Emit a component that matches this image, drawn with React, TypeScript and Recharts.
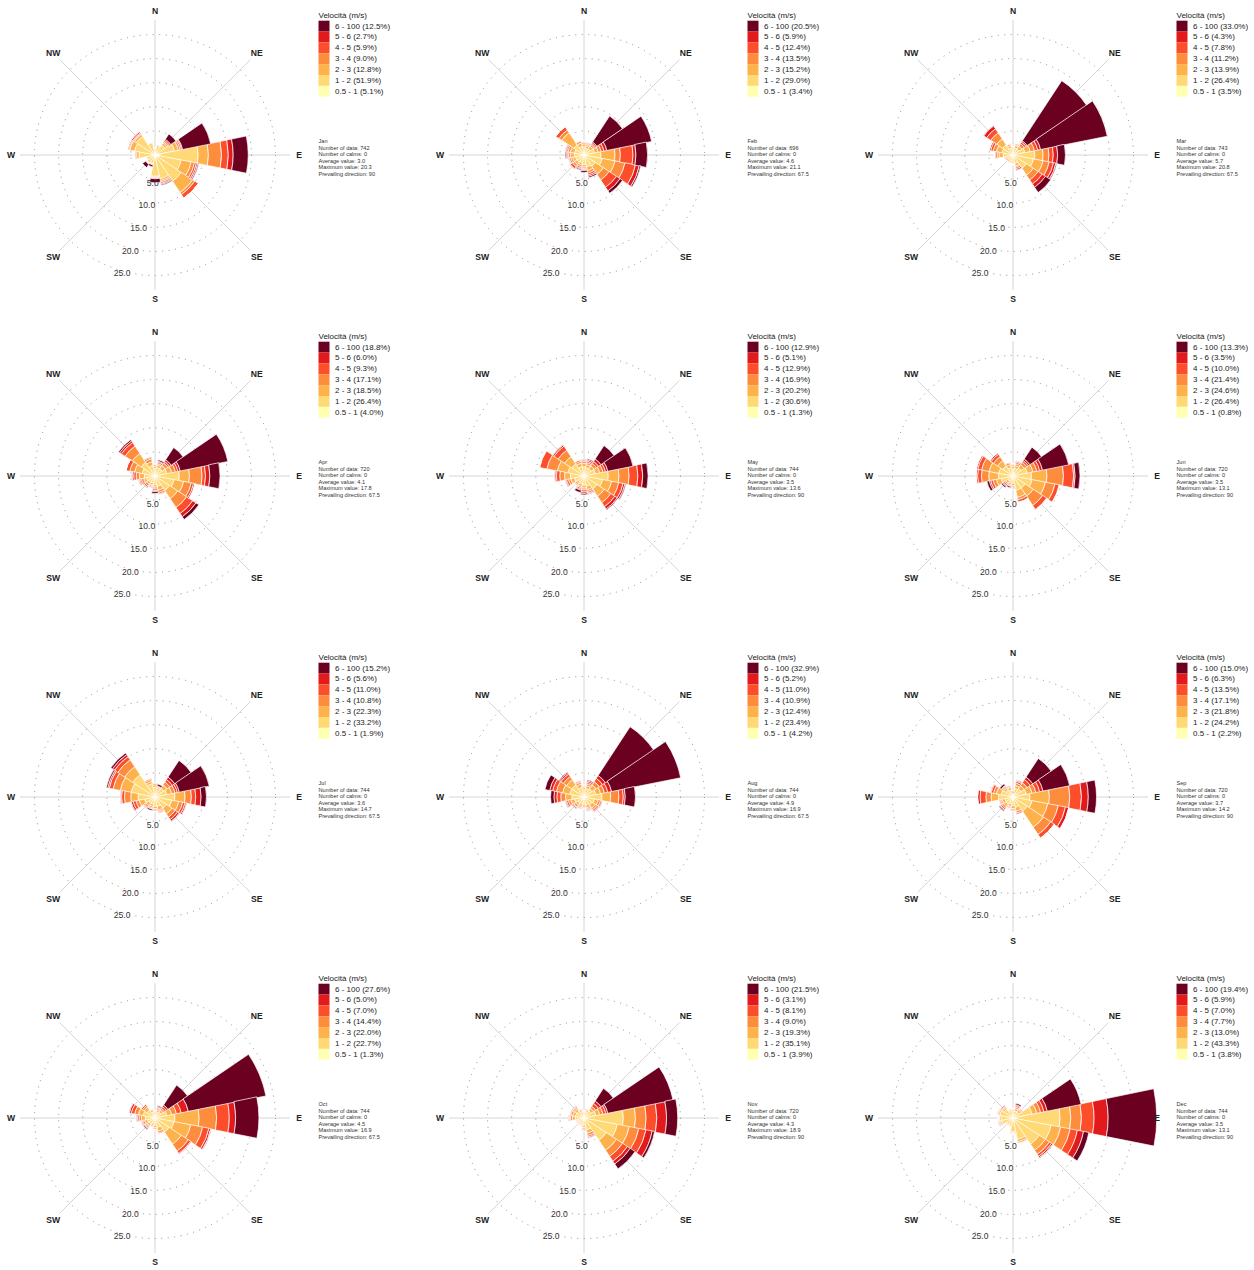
import React from 'react';
import { RadialBarChart, RadialBar, RadarChart, PolarAngleAxis, PolarRadiusAxis, PolarGrid } from 'recharts';

const DIRECTIONS = ['N', 'NNE', 'NE', 'ENE', 'E', 'ESE', 'SE', 'SSE', 'S', 'SSW', 'SW', 'WSW', 'W', 'WNW', 'NW', 'NNW'];
const SPEED_BINS = ['0.5 - 1', '1 - 2', '2 - 3', '3 - 4', '4 - 5', '5 - 6', '6 - 100'];
const BIN_COLORS = ['#FFFFB2', '#FED976', '#FEB24C', '#FD8D3C', '#FC4E2A', '#E31A1C', '#6B0020'];
const COMPASS_LABELS = ['N', 'NE', 'E', 'SE', 'S', 'SW', 'W', 'NW'];
const RADIUS_TICKS = [5, 10, 15, 20, 25];
const MONTHS = ['Jan', 'Feb', 'Mar', 'Apr', 'May', 'Jun', 'Jul', 'Aug', 'Sep', 'Oct', 'Nov', 'Dec'];

// legend percentages, ordered 6-100 ... 0.5-1
const LEGEND_JAN = ['12.5', '2.7', '5.9', '9.0', '12.8', '51.9', '5.1'];
const LEGEND_FEB = ['20.5', '5.9', '12.4', '13.5', '15.2', '29.0', '3.4'];
const LEGEND_MAR = ['33.0', '4.3', '7.8', '11.2', '13.9', '26.4', '3.5'];
const LEGEND_APR = ['18.8', '6.0', '9.3', '17.1', '18.5', '26.4', '4.0'];
const LEGEND_MAY = ['12.9', '5.1', '12.9', '16.9', '20.2', '30.6', '1.3'];
const LEGEND_JUN = ['13.3', '3.5', '10.0', '21.4', '24.6', '26.4', '0.8'];
const LEGEND_JUL = ['15.2', '5.6', '11.0', '10.8', '22.3', '33.2', '1.9'];
const LEGEND_AUG = ['32.9', '5.2', '11.0', '10.9', '12.4', '23.4', '4.2'];
const LEGEND_SEP = ['15.0', '6.3', '13.5', '17.1', '21.8', '24.2', '2.2'];
const LEGEND_OCT = ['27.6', '5.0', '7.0', '14.4', '22.0', '22.7', '1.3'];
const LEGEND_NOV = ['21.5', '3.1', '8.1', '9.0', '19.3', '35.1', '3.9'];
const LEGEND_DEC = ['19.4', '5.9', '7.0', '7.7', '13.0', '43.3', '3.8'];

const N_DATA = [742, 696, 743, 720, 744, 720, 744, 744, 720, 744, 720, 744];
const N_CALMS = [0, 0, 0, 0, 0, 0, 0, 0, 0, 0, 0, 0];
const AVG_VALUE = ['3.0', '4.6', '5.7', '4.1', '3.5', '3.5', '3.6', '4.9', '3.7', '4.5', '4.3', '3.5'];
const MAX_VALUE = ['20.3', '21.1', '20.8', '17.8', '13.6', '13.1', '14.7', '16.9', '14.2', '16.9', '18.9', '13.1'];
const PREVAILING = ['90', '67.5', '67.5', '67.5', '90', '90', '67.5', '67.5', '90', '67.5', '90', '90'];

// cumulative frequency (%) per direction, upper edge of each speed bin (0.5-1 ... 6-100)
const JAN_CUM = [
  [0.3, 1.4, 1.5, 1.5, 1.5, 1.5, 1.5], [0.3, 2.0, 2.2, 2.3, 2.3, 2.3, 2.3], [0.4, 2.5, 3.0, 3.3, 3.6, 3.9, 5.2], [0.7, 4.1, 4.9, 5.3, 5.6, 5.8, 11.7],
  [1.0, 8.9, 11.0, 13.7, 15.1, 16.1, 19.2], [0.8, 5.5, 7.6, 8.3, 8.7, 9.0, 9.2], [0.6, 6.5, 9.3, 9.8, 10.7, 10.7, 10.7], [0.5, 5.0, 5.4, 5.7, 6.0, 6.2, 6.4],
  [0.5, 4.4, 4.6, 4.7, 4.8, 4.9, 5.7], [0.3, 1.8, 1.9, 2.0, 2.0, 2.1, 2.5], [0.3, 2.0, 2.1, 2.2, 2.2, 2.3, 3.1], [0.3, 1.8, 1.9, 2.0, 2.0, 2.0, 2.0],
  [0.3, 3.3, 3.8, 4.1, 4.3, 4.3, 4.3], [0.3, 4.3, 5.3, 5.4, 5.6, 5.8, 5.8], [0.3, 4.6, 5.1, 5.3, 5.5, 5.8, 5.8], [0.3, 2.6, 2.7, 2.8, 2.8, 2.8, 2.8],
];
const FEB_CUM = [
  [0.3, 1.7, 2.3, 2.6, 2.8, 2.9, 2.9], [0.2, 1.4, 1.9, 2.2, 2.4, 2.5, 2.6], [0.3, 1.6, 2.2, 2.6, 2.9, 3.2, 9.6], [0.4, 2.2, 3.0, 3.6, 4.2, 4.8, 14.2],
  [0.5, 3.5, 6.4, 7.5, 10.1, 10.7, 13.1], [0.5, 3.8, 6.5, 8.6, 10.8, 11.6, 11.9], [0.4, 2.8, 4.8, 6.2, 8.0, 8.9, 9.5], [0.3, 2.5, 3.3, 3.8, 4.2, 4.5, 4.8],
  [0.3, 2.0, 2.5, 2.8, 3.0, 3.2, 3.6], [0.3, 1.6, 2.1, 2.5, 2.8, 3.0, 3.2], [0.3, 1.8, 2.4, 2.9, 3.4, 3.6, 3.6], [0.3, 1.8, 2.4, 2.8, 3.1, 3.2, 3.3],
  [0.3, 2.0, 2.8, 3.2, 3.5, 3.7, 3.9], [0.3, 2.0, 2.9, 3.4, 3.7, 3.9, 4.0], [0.3, 2.5, 5.5, 6.2, 7.0, 7.0, 7.0], [0.3, 1.8, 2.5, 2.9, 3.1, 3.1, 3.1],
];
const MAR_CUM = [
  [0.2, 1.3, 1.6, 1.7, 1.8, 1.8, 1.8], [0.2, 1.5, 2.0, 2.2, 2.4, 2.5, 2.5], [0.2, 1.5, 2.2, 2.8, 3.2, 3.5, 18.3], [0.3, 2.5, 3.6, 4.5, 5.2, 5.8, 19.8],
  [0.4, 4.5, 6.2, 7.4, 8.3, 9.2, 10.8], [0.4, 4.3, 6.3, 7.6, 8.5, 9.0, 9.2], [0.3, 3.3, 5.0, 6.2, 7.2, 8.0, 9.3], [0.3, 1.8, 2.3, 2.6, 2.9, 3.2, 3.3],
  [0.3, 1.5, 1.8, 1.9, 2.0, 2.0, 2.0], [0.2, 1.3, 1.6, 1.7, 1.8, 1.8, 1.8], [0.2, 1.3, 1.6, 1.7, 1.8, 1.8, 1.8], [0.2, 1.4, 1.7, 1.9, 2.0, 2.0, 2.0],
  [0.3, 2.0, 2.9, 3.3, 3.6, 3.8, 3.8], [0.3, 2.3, 3.5, 4.2, 4.7, 5.0, 5.0], [0.3, 2.5, 4.0, 5.5, 6.5, 7.2, 7.3], [0.2, 1.5, 2.0, 2.3, 2.4, 2.5, 2.5],
];
const APR_CUM = [
  [0.3, 1.6, 2.0, 2.3, 2.4, 2.5, 2.5], [0.3, 1.8, 2.3, 2.6, 2.9, 3.1, 3.4], [0.3, 1.8, 2.6, 3.2, 3.6, 4.0, 7.0], [0.4, 2.5, 3.5, 4.3, 4.8, 5.3, 15.3],
  [0.5, 5.0, 7.1, 9.7, 10.4, 11.3, 13.4], [0.4, 4.0, 6.0, 7.6, 8.1, 8.4, 8.4], [0.4, 3.6, 5.6, 7.8, 9.3, 10.1, 10.8], [0.3, 2.2, 3.0, 3.5, 3.8, 4.0, 4.0],
  [0.3, 1.8, 2.3, 2.7, 3.0, 3.2, 3.6], [0.2, 1.5, 1.9, 2.1, 2.3, 2.4, 2.5], [0.2, 1.6, 2.1, 2.5, 2.8, 2.9, 3.0], [0.2, 1.8, 2.4, 2.9, 3.2, 3.4, 3.5],
  [0.3, 2.2, 3.2, 3.9, 4.4, 4.7, 4.8], [0.3, 2.7, 4.3, 5.3, 6.1, 6.1, 6.1], [0.3, 3.4, 5.6, 7.4, 8.3, 8.7, 9.0], [0.3, 2.2, 3.0, 3.6, 3.9, 4.1, 4.1],
];
const MAY_CUM = [
  [0.2, 1.9, 2.6, 3.0, 3.3, 3.4, 3.5], [0.2, 1.8, 2.4, 2.8, 3.1, 3.4, 3.6], [0.2, 1.8, 2.5, 3.1, 3.6, 4.2, 7.5], [0.2, 2.4, 3.3, 4.0, 4.5, 5.0, 10.3],
  [0.2, 5.0, 7.2, 9.3, 11.1, 12.1, 13.2], [0.2, 3.9, 5.8, 7.3, 8.2, 8.6, 8.8], [0.2, 3.2, 5.0, 6.6, 7.6, 8.2, 8.4], [0.2, 2.2, 2.9, 3.3, 3.6, 3.8, 3.9],
  [0.2, 1.9, 2.5, 2.9, 3.3, 3.6, 3.9], [0.2, 1.7, 2.2, 2.5, 2.8, 3.0, 3.5], [0.1, 1.5, 1.9, 2.2, 2.4, 2.5, 2.5], [0.1, 2.0, 2.8, 3.3, 3.7, 3.9, 4.0],
  [0.1, 2.8, 4.0, 5.0, 5.7, 6.0, 6.1], [0.1, 3.4, 5.6, 7.8, 9.3, 9.4, 9.4], [0.1, 3.0, 4.8, 6.4, 7.4, 7.7, 7.8], [0.1, 2.0, 2.7, 3.1, 3.4, 3.5, 3.5],
];
const JUN_CUM = [
  [0.1, 1.5, 2.0, 2.3, 2.5, 2.5, 2.5], [0.1, 1.6, 2.2, 2.6, 2.9, 3.1, 3.2], [0.1, 2.0, 2.8, 3.4, 3.8, 4.2, 7.1], [0.1, 3.0, 4.2, 5.0, 5.6, 6.2, 11.7],
  [0.1, 3.8, 7.0, 10.4, 12.5, 12.8, 13.8], [0.1, 4.0, 6.8, 8.8, 9.7, 9.8, 9.8], [0.1, 3.0, 5.0, 7.3, 8.3, 8.4, 8.4], [0.1, 3.0, 4.5, 5.0, 5.5, 5.6, 5.6],
  [0.1, 1.5, 2.0, 2.3, 2.5, 2.6, 2.7], [0.1, 1.2, 1.6, 1.9, 2.1, 2.2, 2.5], [0.1, 1.3, 1.8, 2.1, 2.4, 2.6, 2.9], [0.1, 2.5, 3.5, 4.2, 4.7, 5.0, 5.5],
  [0.1, 3.0, 5.0, 6.5, 7.3, 7.6, 7.6], [0.1, 3.0, 5.0, 6.6, 7.4, 7.7, 7.7], [0.1, 2.5, 3.8, 4.8, 5.4, 5.7, 5.7], [0.1, 1.8, 2.4, 2.8, 3.0, 3.0, 3.0],
];
const JUL_CUM = [
  [0.2, 2.0, 2.5, 2.8, 2.9, 3.0, 3.0], [0.2, 1.4, 1.8, 2.0, 2.2, 2.3, 2.7], [0.2, 2.2, 3.0, 3.7, 4.3, 4.9, 9.0], [0.2, 2.5, 3.5, 4.2, 4.7, 5.1, 11.4],
  [0.2, 4.1, 6.2, 7.5, 8.4, 9.5, 10.6], [0.2, 3.5, 5.0, 5.8, 6.3, 6.6, 6.7], [0.2, 2.8, 4.2, 5.0, 5.6, 6.0, 6.1], [0.2, 2.0, 2.8, 3.1, 3.3, 3.5, 3.5],
  [0.2, 1.9, 2.4, 2.7, 2.9, 3.0, 3.0], [0.2, 1.5, 2.0, 2.3, 2.5, 2.6, 2.9], [0.2, 1.6, 2.2, 2.6, 2.8, 3.0, 3.0], [0.2, 2.2, 3.3, 4.0, 4.6, 5.0, 5.1],
  [0.2, 3.5, 5.0, 6.3, 6.9, 7.1, 7.2], [0.2, 5.0, 7.3, 8.8, 9.6, 9.9, 10.2], [0.2, 5.5, 7.5, 9.2, 10.0, 10.5, 10.9], [0.2, 2.8, 3.3, 3.7, 3.9, 4.0, 4.0],
];
const AUG_CUM = [
  [0.3, 1.6, 2.0, 2.2, 2.4, 2.5, 2.5], [0.3, 1.8, 2.4, 2.8, 3.1, 3.4, 3.6], [0.3, 2.0, 3.0, 3.8, 4.6, 5.3, 17.3], [0.3, 2.5, 3.5, 4.3, 5.0, 5.8, 20.3],
  [0.3, 3.7, 5.5, 7.2, 8.1, 8.5, 10.6], [0.3, 2.2, 3.0, 3.5, 3.8, 4.0, 4.0], [0.3, 2.0, 2.8, 3.2, 3.5, 3.7, 3.8], [0.2, 1.7, 2.3, 2.6, 2.8, 2.9, 3.0],
  [0.2, 1.5, 1.9, 2.2, 2.4, 2.5, 2.5], [0.2, 1.4, 1.8, 2.1, 2.3, 2.4, 2.5], [0.2, 1.6, 2.1, 2.5, 2.7, 2.9, 3.0], [0.2, 2.0, 2.8, 3.3, 3.7, 3.9, 4.0],
  [0.3, 2.5, 3.8, 4.8, 5.6, 6.2, 6.9], [0.3, 3.0, 4.5, 5.8, 6.6, 7.2, 8.2], [0.3, 3.0, 4.3, 5.1, 5.7, 6.0, 6.2], [0.3, 2.0, 2.7, 3.1, 3.3, 3.5, 3.5],
];
const SEP_CUM = [
  [0.1, 0.5, 0.7, 0.8, 0.9, 0.9, 1.1], [0.2, 1.8, 2.4, 2.9, 3.3, 3.5, 3.6], [0.2, 2.0, 2.8, 3.5, 4.3, 4.9, 9.5], [0.2, 2.8, 4.0, 4.8, 5.6, 6.3, 11.9],
  [0.2, 3.5, 7.5, 11.7, 14.1, 15.5, 17.2], [0.2, 4.0, 7.3, 9.5, 11.0, 11.7, 11.7], [0.2, 3.5, 7.5, 9.3, 10.2, 10.2, 10.2], [0.2, 2.2, 3.0, 3.4, 3.7, 3.8, 3.8],
  [0.2, 1.8, 2.4, 2.7, 2.9, 3.0, 3.0], [0.2, 1.5, 2.0, 2.2, 2.4, 2.5, 2.5], [0.2, 1.8, 2.4, 2.8, 3.1, 3.3, 3.5], [0.2, 1.7, 2.3, 2.6, 2.8, 3.0, 3.0],
  [0.2, 3.0, 4.5, 5.6, 6.8, 7.3, 7.3], [0.2, 2.5, 3.5, 4.1, 4.6, 4.8, 4.8], [0.2, 1.8, 2.3, 2.6, 2.8, 2.9, 3.3], [0.2, 1.5, 2.0, 2.2, 2.4, 2.5, 2.5],
];
const OCT_CUM = [
  [0.1, 1.0, 1.3, 1.4, 1.5, 1.5, 1.5], [0.1, 1.2, 1.7, 2.0, 2.2, 2.4, 2.6], [0.2, 1.5, 2.0, 2.4, 2.8, 3.2, 8.1], [0.2, 2.5, 3.5, 4.5, 5.5, 7.0, 23.3],
  [0.2, 4.1, 9.1, 12.7, 15.3, 16.6, 21.4], [0.2, 4.0, 7.5, 10.0, 11.3, 11.7, 11.8], [0.2, 3.5, 6.5, 8.2, 8.8, 9.0, 9.0], [0.2, 2.0, 2.8, 3.2, 3.4, 3.5, 3.5],
  [0.1, 1.5, 2.0, 2.3, 2.4, 2.5, 2.5], [0.1, 1.2, 1.6, 1.8, 1.9, 2.0, 2.0], [0.1, 1.5, 2.0, 2.3, 2.5, 2.7, 2.9], [0.1, 1.6, 2.2, 2.6, 2.8, 3.0, 3.0],
  [0.1, 2.0, 2.8, 3.3, 3.6, 3.8, 3.9], [0.1, 2.5, 3.5, 4.3, 5.0, 5.4, 5.5], [0.1, 2.0, 2.7, 3.1, 3.4, 3.5, 3.5], [0.1, 1.3, 1.7, 1.9, 2.0, 2.0, 2.0],
];
const NOV_CUM = [
  [0.2, 1.1, 1.3, 1.4, 1.5, 1.5, 1.5], [0.2, 1.3, 1.6, 1.8, 1.9, 2.0, 2.0], [0.2, 1.8, 2.4, 2.9, 3.6, 4.2, 7.3], [0.3, 2.5, 3.3, 4.0, 4.6, 5.0, 18.7],
  [0.3, 8.1, 10.6, 12.8, 15.0, 17.0, 19.3], [0.3, 7.0, 9.5, 11.5, 13.0, 14.3, 14.8], [0.3, 5.5, 8.0, 9.5, 10.7, 11.4, 12.6], [0.2, 2.5, 3.2, 3.7, 4.0, 4.2, 4.3],
  [0.2, 1.6, 2.0, 2.3, 2.5, 2.6, 2.7], [0.2, 1.3, 1.5, 1.6, 1.7, 1.8, 1.8], [0.2, 1.3, 1.5, 1.6, 1.7, 1.8, 1.8], [0.2, 1.3, 1.5, 1.6, 1.7, 1.8, 1.8],
  [0.2, 1.8, 2.4, 2.8, 3.0, 3.1, 3.2], [0.2, 1.8, 2.4, 2.8, 3.0, 3.1, 3.1], [0.2, 1.8, 2.3, 2.6, 2.8, 2.9, 3.0], [0.2, 1.4, 1.7, 1.9, 2.0, 2.0, 2.0],
];
const DEC_CUM = [
  [0.2, 1.5, 1.8, 1.9, 2.0, 2.0, 2.0], [0.1, 1.5, 2.0, 2.3, 2.6, 2.8, 3.1], [0.2, 1.5, 2.0, 2.2, 2.4, 2.5, 2.5], [0.3, 4.0, 5.0, 5.8, 6.5, 7.2, 14.3],
  [0.5, 9.7, 11.9, 14.1, 16.7, 19.6, 29.6], [0.4, 8.0, 10.0, 12.0, 13.5, 14.8, 15.9], [0.3, 6.5, 8.0, 9.0, 9.5, 9.8, 9.9], [0.3, 4.5, 5.0, 5.3, 5.4, 5.5, 5.5],
  [0.2, 2.8, 3.0, 3.2, 3.3, 3.4, 3.4], [0.2, 1.6, 1.8, 1.9, 2.0, 2.0, 2.0], [0.2, 1.6, 1.8, 1.9, 2.0, 2.0, 2.0], [0.2, 2.4, 2.7, 2.9, 3.0, 3.1, 3.2],
  [0.2, 2.5, 2.8, 2.9, 3.0, 3.1, 3.1], [0.2, 2.8, 3.1, 3.3, 3.4, 3.5, 3.5], [0.2, 2.2, 2.6, 2.8, 3.0, 3.2, 3.2], [0.2, 1.6, 1.8, 1.9, 2.0, 2.0, 2.0],
];

const MONTH_CUM = [JAN_CUM, FEB_CUM, MAR_CUM, APR_CUM, MAY_CUM, JUN_CUM, JUL_CUM, AUG_CUM, SEP_CUM, OCT_CUM, NOV_CUM, DEC_CUM];
const MONTH_LEGEND = [LEGEND_JAN, LEGEND_FEB, LEGEND_MAR, LEGEND_APR, LEGEND_MAY, LEGEND_JUN, LEGEND_JUL, LEGEND_AUG, LEGEND_SEP, LEGEND_OCT, LEGEND_NOV, LEGEND_DEC];

const COL_X = [155, 584, 1013];
const ROW_Y = [155, 476, 797, 1118];
const R_OUT = 135; // pixel radius of the axis lines
const R_MAX = 27.8; // % value at the end of the axis lines
const R_BAR_MAX = 32; // wider domain for the bar layer so long bars are not truncated
const R_BAR_OUT = (R_OUT * R_BAR_MAX) / R_MAX;
const FONT = '"Liberation Sans", Arial, sans-serif';
const SIZE = 310;
const C = 155;
const NO_MARGIN = { top: 0, right: 0, bottom: 0, left: 0 };
const COMPASS_ROWS = COMPASS_LABELS.map((d) => ({ dir: d }));

function toRows(cum: number[][]) {
  return DIRECTIONS.map((d, i) => {
    const row: Record<string, any> = { dir: d };
    cum[i].forEach((v, k) => {
      const prev = k > 0 ? cum[i][k - 1] : 0;
      row['b' + k] = Math.max(0, +(v - prev).toFixed(3));
    });
    return row;
  });
}

const CompassTick = (props: any) => {
  const { x, y, payload } = props;
  return (
    <text x={x} y={y} textAnchor="middle" dominantBaseline="central" fontSize={8.6} fontWeight="bold" fill="#222" fontFamily={FONT}>
      {payload.value}
    </text>
  );
};

const RadiusTick = (props: any) => {
  const { x, y, payload } = props;
  return (
    <text x={x} y={y + 5} textAnchor="start" dominantBaseline="central" fontSize={8.6} fill="#333" fontFamily={FONT}>
      {Number(payload.value).toFixed(1)}
    </text>
  );
};

const layer: React.CSSProperties = { position: 'absolute', left: 0, top: 0 };

function GridBack() {
  return (
    <RadarChart width={SIZE} height={SIZE} cx={C} cy={C} outerRadius={R_OUT} data={COMPASS_ROWS} margin={NO_MARGIN} startAngle={90} endAngle={-270}>
      <PolarGrid polarRadius={[]} radialLines stroke="#d6d6d6" strokeWidth={1} />
      <PolarGrid gridType="circle" radialLines={false} stroke="#8c8c8c" strokeWidth={1} strokeDasharray="1 5.5" />
      <PolarAngleAxis dataKey="dir" tick={false} axisLine={false} tickLine={false} />
      <PolarRadiusAxis type="number" domain={[0, R_MAX]} allowDataOverflow ticks={RADIUS_TICKS} tick={false} axisLine={false} tickLine={false} />
    </RadarChart>
  );
}

function GridFront() {
  return (
    <RadarChart width={SIZE} height={SIZE} cx={C} cy={C} outerRadius={R_OUT} data={COMPASS_ROWS} margin={NO_MARGIN} startAngle={90} endAngle={-270}>
      <PolarAngleAxis dataKey="dir" tick={<CompassTick />} tickSize={9} axisLine={false} tickLine={false} />
      <PolarRadiusAxis
        type="number"
        domain={[0, R_MAX]}
        allowDataOverflow
        ticks={RADIUS_TICKS}
        angle={-110}
        axisLine={false}
        tickLine={false}
        tick={<RadiusTick />}
      />
    </RadarChart>
  );
}

function Rose({ cum }: { cum: number[][] }) {
  const data = toRows(cum);
  return (
    <RadialBarChart
      width={SIZE}
      height={SIZE}
      cx={C}
      cy={C}
      innerRadius={0}
      outerRadius={R_BAR_OUT}
      startAngle={78.75}
      endAngle={-281.25}
      data={data}
      layout="centric"
      barCategoryGap={0}
      barGap={0}
      margin={NO_MARGIN}
    >
      <PolarAngleAxis dataKey="dir" type="category" tick={false} axisLine={false} tickLine={false} />
      <PolarRadiusAxis type="number" domain={[0, R_BAR_MAX]} tick={false} axisLine={false} tickLine={false} />
      {SPEED_BINS.map((b, k) => (
        <RadialBar
          key={b}
          dataKey={'b' + k}
          stackId="s"
          fill={BIN_COLORS[k]}
          stroke="#ffffff"
          strokeWidth={0.7}
          isAnimationActive={false}
        />
      ))}
    </RadialBarChart>
  );
}

function LegendBlock({ m, X, Y }: { m: number; X: number; Y: number }) {
  const pct = MONTH_LEGEND[m];
  const lx = X + 163.5;
  const stats = [
    MONTHS[m],
    `Number of data: ${N_DATA[m]}`,
    `Number of calms: ${N_CALMS[m]}`,
    `Average value: ${AVG_VALUE[m]}`,
    `Maximum value: ${MAX_VALUE[m]}`,
    `Prevailing direction: ${PREVAILING[m]}`,
  ];
  return (
    <g fontFamily={FONT}>
      <text x={lx} y={Y - 139.3} dominantBaseline="central" fontSize={8} fill="#222">Velocità (m/s)</text>
      {pct.map((p, i) => (
        <g key={i}>
          <rect x={lx} y={Y - 134.3 + 10.86 * i} width={11} height={10.86} fill={BIN_COLORS[6 - i]} />
          <text x={X + 180} y={Y - 128.9 + 10.86 * i} dominantBaseline="central" fontSize={8} fill="#222">
            {`${SPEED_BINS[6 - i]} (${p}%)`}
          </text>
        </g>
      ))}
      {stats.map((s, j) => (
        <text key={j} x={lx} y={Y - 14 + 6.6 * j} dominantBaseline="central" fontSize={5.6} fill="#333">
          {s}
        </text>
      ))}
    </g>
  );
}

export default function App() {
  return (
    <div style={{ position: 'absolute', left: 0, top: 0, width: 1254, height: 1270, background: '#fff', fontFamily: FONT, overflow: 'hidden' }}>
      {MONTHS.map((mn, m) => {
        const X = COL_X[m % 3];
        const Y = ROW_Y[Math.floor(m / 3)];
        return (
          <div key={mn} style={{ position: 'absolute', left: X - C, top: Y - C, width: SIZE, height: SIZE }}>
            <div style={layer}><GridBack /></div>
            <div style={layer}><Rose cum={MONTH_CUM[m]} /></div>
            <div style={layer}><GridFront /></div>
          </div>
        );
      })}
      <svg width={1254} height={1270} style={{ position: 'absolute', left: 0, top: 0, pointerEvents: 'none' }}>
        {MONTHS.map((mn, m) => (
          <LegendBlock key={mn} m={m} X={COL_X[m % 3]} Y={ROW_Y[Math.floor(m / 3)]} />
        ))}
      </svg>
    </div>
  );
}
